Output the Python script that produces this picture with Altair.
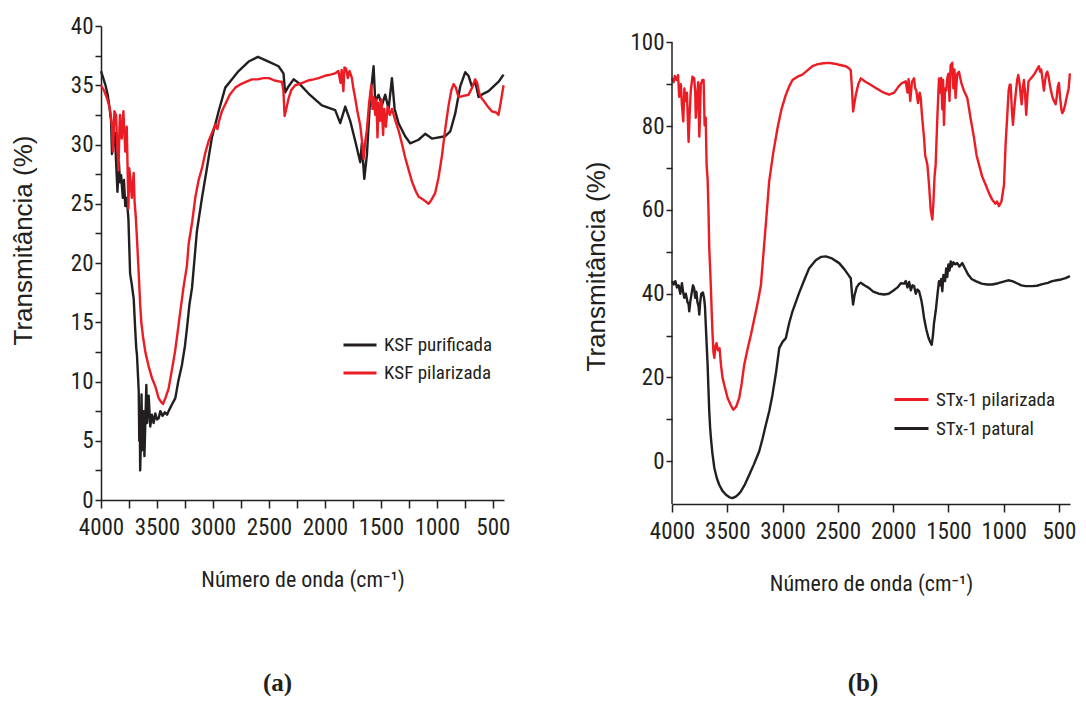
import subprocess
import altair as alt
import pandas as pd

# ---------------- data ----------------
ksf_pur_wn = [4000, 3980, 3960, 3940, 3925, 3910, 3902, 3893, 3885, 3876, 3865, 3853, 3840, 3830, 3820, 3805, 3795,
              3783, 3770, 3755, 3740, 3725, 3708, 3695, 3685, 3679, 3668, 3663, 3658, 3654, 3650, 3645, 3638, 3632,
              3626, 3619, 3612, 3605, 3595, 3588, 3574, 3560, 3545, 3530, 3515, 3500, 3485, 3470, 3450, 3430, 3410,
              3396, 3370, 3336, 3310, 3277, 3250, 3232, 3210, 3187, 3143, 3098, 3054, 3009, 2949, 2890, 2830, 2771,
              2681, 2598, 2503, 2414, 2370, 2355, 2325, 2280, 2235, 2146, 2027, 1908, 1863, 1818, 1774, 1729, 1684,
              1670, 1648, 1625, 1595, 1565, 1550, 1520, 1491, 1461, 1431, 1401, 1377, 1342, 1283, 1238, 1163, 1104,
              1044, 925, 880, 836, 791, 746, 717, 687, 657, 627, 582, 538, 493, 448, 404]
ksf_pur_t = [36.2, 35.6, 35.0, 34.2, 33.2, 32.0, 29.2, 31.5, 30.0, 31.0, 28.5, 26.0, 28.5, 26.8, 27.4, 25.5, 27.0,
             24.8, 25.5, 23.7, 19.1, 18.2, 17.0, 14.5, 12.8, 12.3, 10.2, 9.2, 5.0, 7.5, 2.5, 4.5, 8.9, 4.2,
             7.0, 7.5, 3.7, 6.2, 9.7, 6.5, 8.8, 6.2, 7.2, 6.5, 7.3, 6.8, 6.9, 7.5, 7.1, 7.4, 7.2,
             7.5, 8.0, 8.6, 10.0, 11.4, 13.0, 14.5, 16.5, 17.9, 22.7, 25.5, 28.0, 30.6, 32.8, 34.8, 35.5, 36.2,
             37.0, 37.4, 37.0, 36.6, 36.0, 34.4, 34.9, 35.5, 35.2, 34.3, 33.3, 32.9, 31.8, 33.2, 32.0, 30.3, 28.5,
             30.1, 27.1, 29.1, 33.9, 36.6, 33.6, 34.2, 33.3, 34.2, 33.0, 35.6, 33.0, 31.8, 30.7, 30.1, 30.4, 30.9,
             30.5, 30.7, 31.1, 32.6, 34.9, 36.1, 35.8, 34.9, 35.3, 34.0, 34.3, 34.5, 34.9, 35.3, 35.9]

ksf_pil_wn = [4000, 3975, 3946, 3920, 3902, 3893, 3880, 3866, 3855, 3844, 3835, 3830, 3815, 3800, 3783, 3770, 3755,
              3748, 3740, 3725, 3708, 3700, 3690, 3680, 3665, 3650, 3640, 3625, 3604, 3575, 3545, 3515, 3485, 3465,
              3446, 3425, 3396, 3370, 3339, 3315, 3292, 3262, 3232, 3217, 3185, 3158, 3128, 3098, 3068, 3038, 3008,
              2979, 2960, 2945, 2920, 2890, 2850, 2800, 2750, 2700, 2652, 2600, 2550, 2500, 2450, 2400, 2384, 2370,
              2360, 2345, 2324, 2300, 2265, 2200, 2150, 2100, 2056, 2000, 1950, 1910, 1880, 1860, 1850, 1835, 1825,
              1810, 1795, 1780, 1765, 1759, 1745, 1729, 1710, 1684, 1665, 1654, 1640, 1625, 1605, 1586, 1575, 1565,
              1550, 1540, 1530, 1520, 1505, 1495, 1480, 1470, 1455, 1440, 1420, 1401, 1370, 1342, 1310, 1283, 1250,
              1223, 1190, 1163, 1130, 1100, 1074, 1050, 1015, 985, 955, 925, 895, 870, 850, 830, 806, 760, 717, 685,
              658, 640, 620, 600, 582, 545, 509, 470, 449, 430, 404]
ksf_pil_t = [35.0, 34.6, 33.9, 33.0, 31.6, 29.4, 32.8, 32.5, 30.0, 27.8, 31.5, 32.5, 30.5, 32.8, 29.4, 31.5, 24.6,
             28.0, 27.4, 25.5, 27.6, 25.2, 24.0, 22.3, 19.5, 16.5, 15.0, 13.8, 12.5, 11.3, 10.3, 9.6, 8.6, 8.3,
             8.1, 8.6, 9.4, 10.8, 12.5, 14.2, 15.9, 18.0, 19.8, 21.6, 23.5, 25.5, 27.0, 28.0, 29.3, 30.3, 31.0,
             31.7, 31.3, 32.0, 32.8, 33.4, 34.2, 34.8, 35.1, 35.3, 35.5, 35.5, 35.6, 35.6, 35.4, 35.3, 35.3, 34.5,
             32.4, 33.0, 33.9, 34.6, 35.0, 35.2, 35.4, 35.5, 35.6, 35.8, 35.9, 36.0, 36.2, 35.2, 36.3, 34.5, 36.5,
             36.4, 35.6, 36.2, 35.8, 35.6, 34.7, 33.9, 32.8, 31.6, 30.0, 28.8, 30.2, 31.2, 33.5, 35.0, 33.0, 34.0,
             32.5, 33.8, 30.6, 33.5, 32.0, 33.8, 30.8, 33.0, 31.5, 33.2, 32.5, 33.0, 32.0, 31.2, 30.0, 28.9, 27.8,
             26.9, 26.1, 25.6, 25.4, 25.2, 25.0, 25.3, 25.9, 27.2, 29.0, 31.3, 33.3, 34.6, 35.1, 34.8, 34.0, 34.1,
             34.2, 34.8, 35.5, 35.2, 34.3, 33.9, 33.7, 33.2, 32.8, 32.7, 32.5, 33.5, 35.0]

stx_pil_wn = [4000, 3985, 3975, 3960, 3945, 3935, 3920, 3910, 3898, 3888, 3878, 3865, 3850, 3840, 3830, 3815, 3799,
              3790, 3785, 3775, 3763, 3753, 3745, 3740, 3725, 3714, 3705, 3695, 3687, 3678, 3670, 3663, 3655, 3648,
              3640, 3633, 3625, 3617, 3607, 3597, 3585, 3570, 3557, 3543, 3520, 3497, 3470, 3446, 3420, 3392, 3370,
              3347, 3315, 3286, 3260, 3241, 3220, 3196, 3181, 3150, 3121, 3085, 3046, 3010, 2970, 2940, 2910, 2865,
              2820, 2775, 2730, 2680, 2630, 2579, 2530, 2480, 2428, 2400, 2383, 2370, 2362, 2350, 2337, 2315, 2292,
              2250, 2200, 2157, 2100, 2037, 1990, 1950, 1920, 1886, 1870, 1860, 1845, 1830, 1811, 1800, 1790, 1775,
              1760, 1750, 1740, 1730, 1720, 1710, 1700, 1690, 1675, 1660, 1645, 1635, 1625, 1615, 1600, 1585, 1575,
              1565, 1555, 1548, 1540, 1530, 1520, 1510, 1500, 1490, 1480, 1465, 1455, 1445, 1435, 1420, 1404, 1385,
              1360, 1329, 1300, 1268, 1245, 1223, 1195, 1163, 1133, 1103, 1075, 1060, 1043, 1020, 997, 982, 967,
              955, 945, 937, 926, 916, 905, 890, 878, 868, 855, 845, 837, 827, 817, 807, 796, 786, 775, 750, 720,
              700, 681, 670, 660, 648, 636, 625, 615, 606, 595, 580, 560, 545, 530, 520, 510, 500, 490, 478, 470,
              460, 445, 425, 412, 401]
stx_pil_t = [91.4, 90.5, 92.0, 91.0, 92.2, 87.0, 90.0, 85.0, 81.1, 89.0, 86.0, 88.0, 76.2, 83.0, 88.5, 91.8, 91.4,
             88.0, 82.0, 86.0, 90.5, 77.5, 84.0, 90.0, 91.0, 91.0, 80.2, 82.0, 70.7, 67.5, 60.0, 50.9, 46.0, 41.3,
             35.0, 30.2, 26.0, 24.7, 27.5, 28.2, 26.5, 27.0, 23.0, 19.9, 17.5, 15.1, 13.5, 12.3, 13.0, 15.1, 18.5,
             23.0, 27.0, 30.2, 33.5, 35.8, 38.5, 42.0, 46.9, 57.0, 66.8, 73.5, 79.5, 84.0, 87.5, 89.5, 91.0, 91.8,
             92.3, 93.3, 94.3, 94.8, 95.0, 95.1, 94.9, 94.6, 94.3, 93.8, 93.3, 88.0, 83.5, 85.5, 87.5, 90.0, 91.4,
             90.6, 89.8, 89.1, 88.2, 87.5, 88.0, 89.5, 90.3, 90.7, 88.0, 91.2, 86.0, 90.5, 91.4, 89.0, 88.5, 85.5,
             88.0, 86.7, 83.0, 80.0, 77.2, 73.0, 72.0, 70.8, 66.0, 60.0, 57.7, 62.0, 68.0, 70.8, 82.0, 91.4, 88.0,
             91.5, 84.0, 91.0, 80.3, 89.0, 88.5, 91.4, 92.5, 86.0, 94.5, 95.1, 89.0, 93.5, 86.7, 92.5, 93.0, 90.5,
             88.5, 86.7, 82.0, 77.2, 73.0, 70.8, 68.0, 66.0, 64.0, 62.4, 61.5, 62.0, 60.9, 62.0, 66.0, 76.0, 82.7,
             88.5, 89.9, 89.9, 84.0, 80.3, 84.0, 88.0, 91.0, 92.2, 90.0, 87.0, 85.2, 89.0, 91.0, 88.0, 82.7, 87.0,
             90.7, 91.5, 92.5, 93.5, 94.3, 93.0, 93.5, 91.0, 88.5, 91.0, 92.5, 93.0, 92.0, 89.5, 87.0, 86.0, 85.2,
             87.0, 89.5, 90.3, 87.0, 84.0, 83.1, 83.5, 85.0, 87.5, 89.0, 92.6]

stx_nat_wn = [4000, 3985, 3970, 3955, 3940, 3925, 3910, 3900, 3889, 3875, 3860, 3850, 3844, 3835, 3820, 3810, 3800,
              3790, 3780, 3770, 3760, 3753, 3745, 3735, 3720, 3710, 3702, 3690, 3678, 3670, 3663, 3655, 3648, 3635,
              3617, 3595, 3573, 3545, 3512, 3480, 3452, 3420, 3400, 3377, 3340, 3301, 3260, 3211, 3180, 3151, 3120,
              3091, 3060, 3030, 3000, 2970, 2940, 2910, 2880, 2850, 2800, 2759, 2700, 2650, 2609, 2560, 2488, 2440,
              2400, 2383, 2372, 2362, 2350, 2330, 2310, 2292, 2260, 2220, 2180, 2130, 2082, 2040, 2000, 1960, 1930,
              1900, 1886, 1870, 1855, 1840, 1825, 1810, 1795, 1780, 1765, 1745, 1735, 1720, 1700, 1680, 1665, 1651,
              1640, 1630, 1615, 1600, 1585, 1575, 1565, 1555, 1545, 1530, 1520, 1510, 1500, 1490, 1479, 1470, 1455,
              1440, 1420, 1400, 1374, 1350, 1320, 1290, 1253, 1200, 1150, 1103, 1050, 1000, 960, 922, 880, 840, 800,
              741, 700, 650, 600, 561, 520, 480, 440, 401]
stx_nat_t = [43.0, 42.2, 43.0, 41.5, 42.0, 40.0, 42.5, 40.5, 39.0, 40.0, 38.0, 37.5, 35.8, 38.0, 40.5, 42.0, 41.3,
             39.0, 40.5, 38.0, 37.0, 35.0, 38.0, 40.0, 40.3, 39.0, 37.0, 30.0, 23.0, 17.0, 11.9, 8.0, 5.6, 2.0,
             -1.6, -4.0, -5.6, -7.0, -8.0, -8.6, -8.8, -8.4, -7.9, -7.2, -5.5, -3.2, -0.8, 2.4, 5.5, 8.7, 12.0,
             15.9, 21.0, 27.0, 28.5, 29.4, 33.0, 35.8, 38.0, 40.2, 43.5, 46.1, 48.0, 48.8, 48.9, 48.5, 47.3, 45.8,
             44.3, 43.7, 40.0, 37.4, 39.5, 41.5, 42.3, 42.6, 42.0, 41.4, 40.5, 40.0, 39.8, 40.0, 40.7, 41.5, 42.5,
             42.4, 43.0, 41.5, 42.8, 40.8, 42.0, 41.8, 40.0, 41.0, 40.6, 38.5, 37.0, 34.2, 31.5, 29.5, 28.5, 27.8,
             30.0, 33.0, 35.8, 39.5, 43.0, 42.0, 43.5, 40.6, 44.5, 43.0, 46.0, 44.0, 47.0, 45.5, 47.7, 46.5, 47.5,
             47.0, 47.3, 46.5, 47.3, 46.0, 44.5, 43.5, 43.0, 42.4, 42.2, 42.2, 42.5, 42.9, 43.2, 43.0, 42.5, 42.0,
             41.8, 41.8, 41.9, 42.3, 42.6, 43.0, 43.2, 43.4, 43.7, 44.2]

left_names = ["KSF purificada", "KSF pilarizada"]
right_names = ["STx-1 pilarizada", "STx-1 patural"]
RED = "#ec1c24"
BLACK = "#231f20"

# ---------------- fonts: use a condensed face when one is installed ----------------
try:
    _fams = subprocess.run(["fc-list", ":", "family"], capture_output=True, text=True, timeout=10).stdout
except Exception:
    _fams = ""
_names = set()
for line in _fams.splitlines():
    for part in line.split(","):
        _names.add(part.strip())
NARROW = None
for cand in ["Liberation Sans Narrow", "Arial Narrow", "Roboto Condensed", "DejaVu Sans Condensed",
             "Noto Sans Condensed", "Open Sans Condensed"]:
    if cand in _names:
        NARROW = cand
        break

SANS = "Liberation Sans"
SERIF = "Liberation Serif"
if NARROW:
    TICK_FONT, TICK_FS, XT_FONT, XT_FS, LEG_FONT, LEG_FS = NARROW, 23, NARROW, 22, NARROW, 19
    X_LPAD, X_TPAD = 8, 30
else:
    TICK_FONT, TICK_FS, XT_FONT, XT_FS, LEG_FONT, LEG_FS = SANS, 20, SANS, 21, SANS, 18
    X_LPAD, X_TPAD = 10, 33


def frame(pairs):
    rows = []
    for name, wn, t in pairs:
        for i, (a, b) in enumerate(zip(wn, t)):
            rows.append({"wn": a, "T": b, "serie": name, "idx": i})
    return pd.DataFrame(rows)


left_df = frame([(left_names[0], ksf_pur_wn, ksf_pur_t), (left_names[1], ksf_pil_wn, ksf_pil_t)])
right_df = frame([(right_names[0], stx_pil_wn, stx_pil_t), (right_names[1], stx_nat_wn, stx_nat_t)])

x_ticks = list(range(500, 4001, 250))
x_label_expr = "datum.value % 500 === 0 ? datum.label : ''"


def x_axis():
    return alt.Axis(values=x_ticks, format="d", labelExpr=x_label_expr, title="Número de onda (cm⁻¹)",
                    labelFont=TICK_FONT, labelFontSize=TICK_FS, labelColor=BLACK, labelFlush=False,
                    labelOverlap=False, labelPadding=X_LPAD, tickSize=8, tickWidth=1.5, tickColor=BLACK,
                    domainColor=BLACK, domainWidth=1.5, grid=False, titleFont=XT_FONT, titleFontSize=XT_FS,
                    titleFontWeight="normal", titleColor=BLACK, titlePadding=X_TPAD)


def y_axis(values, major, title_pad, title_y, show_domain=True):
    expr = " || ".join(f"datum.value === {m}" for m in major)
    return alt.Axis(values=values, format="d", labelExpr=f"({expr}) ? datum.label : ''", title="Transmitância (%)",
                    labelFont=TICK_FONT, labelFontSize=TICK_FS, labelColor=BLACK, labelFlush=False,
                    labelOverlap=False, labelPadding=2, tickSize=6, tickWidth=1.5, tickColor=BLACK,
                    domain=show_domain, domainColor=BLACK, domainWidth=1.5, grid=False, titleFont=SANS,
                    titleFontSize=26, titleFontWeight="normal", titleColor=BLACK, titlePadding=title_pad,
                    titleY=title_y)


def legend(x, y, length, row_pad):
    return alt.Legend(title=None, orient="none", legendX=x, legendY=y, symbolType="stroke",
                      symbolStrokeWidth=3, symbolSize=length * length, labelFont=LEG_FONT, labelFontSize=LEG_FS,
                      labelColor=BLACK, labelOffset=6, rowPadding=row_pad, padding=0)


def caption(text, dx, offset):
    return alt.TitleParams(text, orient="bottom", frame="group", anchor="middle", dx=dx, offset=offset,
                           font=SERIF, fontSize=25, fontWeight="bold", color=BLACK)


# ---------------- left panel ----------------
left_y_vals = [v / 2 for v in range(0, 81, 5)]
left = alt.Chart(left_df).mark_line(strokeWidth=2.4, strokeJoin="round").encode(
    x=alt.X("wn:Q", scale=alt.Scale(domain=[400, 4000], reverse=True, nice=False, zero=False), axis=x_axis()),
    y=alt.Y("T:Q", scale=alt.Scale(domain=[0, 40], nice=False, zero=False),
            axis=y_axis(left_y_vals, list(range(0, 41, 5)), 34, 214)),
    color=alt.Color("serie:N", scale=alt.Scale(domain=left_names, range=[BLACK, RED]),
                    legend=legend(241, 301, 33, 0)),
    order="idx:Q",
).properties(width=403, height=474, title=caption("(a)", -25, 81))

# ---------------- right panel ----------------
right_y_vals = list(range(0, 101, 10))
right_lines = alt.Chart(right_df).mark_line(strokeWidth=2.4, strokeJoin="round").encode(
    x=alt.X("wn:Q", scale=alt.Scale(domain=[400, 4000], reverse=True, nice=False, zero=False), axis=x_axis()),
    y=alt.Y("T:Q", scale=alt.Scale(domain=[-10.2, 103.9], nice=False, zero=False),
            axis=y_axis(right_y_vals, list(range(0, 101, 20)), 20, 240, show_domain=False)),
    color=alt.Color("serie:N", scale=alt.Scale(domain=right_names, range=[RED, BLACK]),
                    legend=legend(221, 355, 34, -3)),
    order="idx:Q",
)
right_axis_line = alt.Chart(pd.DataFrame({"k": [0]})).mark_rule(color=BLACK, strokeWidth=1.5).encode(
    x=alt.datum(4000), y=alt.datum(-10.2), y2=alt.datum(100)
)
right = alt.layer(right_lines, right_axis_line).properties(
    width=398, height=478, title=caption("(b)", -8, 77)
)

chart = alt.hconcat(left, right, spacing=73).resolve_scale(color="independent").properties(
    padding={"left": 10, "top": 15, "right": 4, "bottom": 0},
    background="white",
).configure_view(stroke=None)

chart.save("out.html", embed_options={"renderer": "svg", "actions": False})
